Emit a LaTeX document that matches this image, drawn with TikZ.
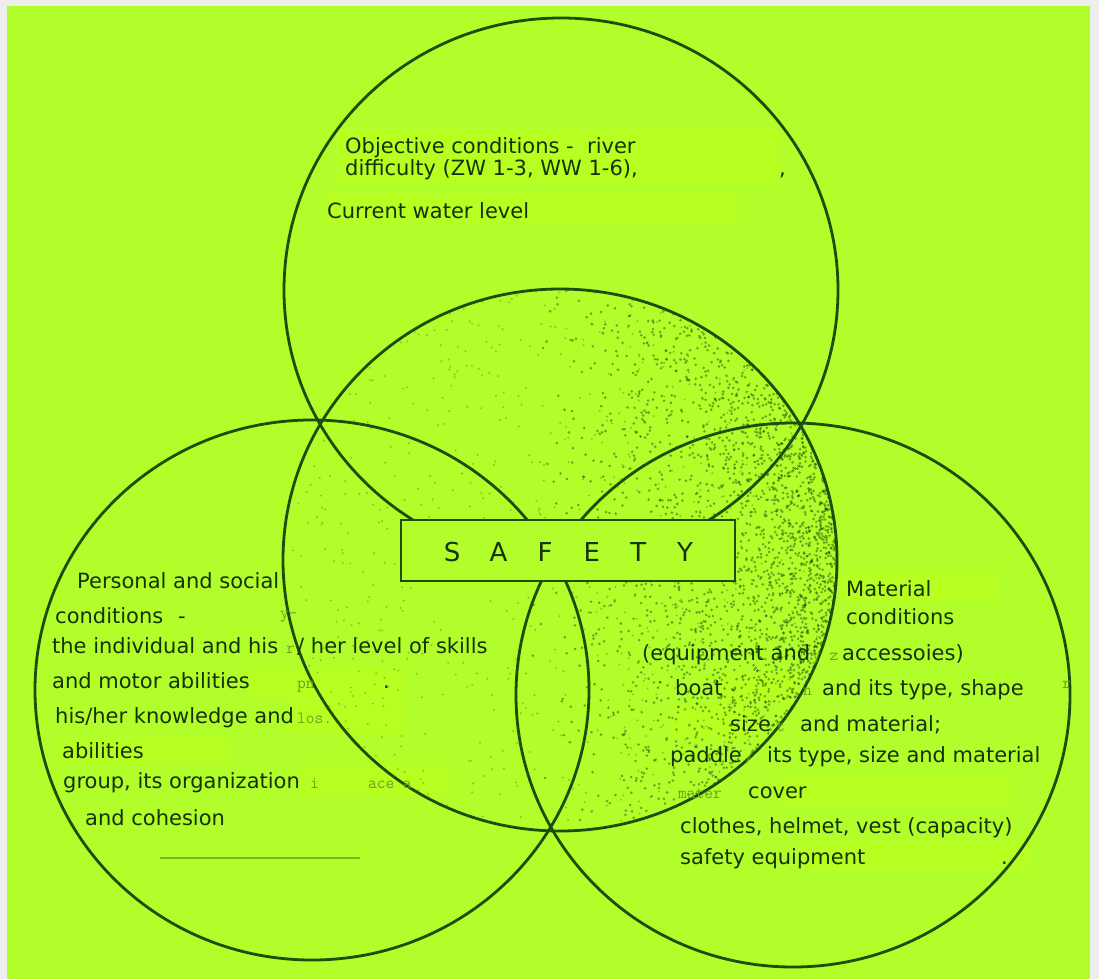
\documentclass[tikz,border=0pt]{standalone}
\usepackage{fontspec}
\setmainfont{DejaVu Sans}
\definecolor{lime}{RGB}{178,254,42}
\definecolor{limehi}{RGB}{183,255,32}
\definecolor{ink}{RGB}{22,50,8}
\definecolor{rim}{RGB}{30,76,10}
\definecolor{paper}{RGB}{238,238,238}
\tikzset{venn/.style={x=1pt,y=-1pt,font=\fontsize{21}{24}\selectfont}}
\tikzset{ring/.style={rim,line width=2.8pt},
         blot/.style={limehi},
         txt/.style={ink,anchor=base west,inner sep=0pt},
         ghost/.style={ink!45!lime,anchor=base west,inner sep=0pt,font=\ttfamily\fontsize{17}{18}\selectfont}}

\begin{document}
\begin{tikzpicture}[venn]
    \useasboundingbox (0,0) rectangle (1099,979);
    \fill[paper] (0,0) rectangle (1099,979);
    \fill[lime]  (7,6) rectangle (1090,979);
    % lighter patches left by the scan
    \fill[blot] (338,130) rectangle (780,184);
    \fill[blot] (325,193) rectangle (737,222);
    \fill[blot] (250,668) rectangle (405,700);
    \fill[blot] (290,702) rectangle (405,733);
    \fill[blot] (60,737) rectangle (230,763);
    \fill[blot] (300,766) rectangle (450,796);
    \fill[blot] (840,572) rectangle (998,602);
    \fill[blot] (720,674) rectangle (800,702);
    \fill[blot] (672,706) rectangle (760,740);
    \fill[blot] (780,776) rectangle (1012,806);
    \fill[blot] (800,841) rectangle (1030,870);
    % speckle inside the centre ring
    \begin{scope}
      \clip (560,560) ellipse [x radius=277, y radius=271];
      \pgfmathsetseed{7}
      \foreach \k in {1,...,4200} {
        \pgfmathsetmacro\px{840-310*rnd*rnd}
        \pgfmathsetmacro\py{545+285*rand}
        \fill[rim,opacity=.5] (\px,\py) circle [radius=1.4];
      }
      \foreach \k in {1,...,900} {
        \pgfmathsetmacro\px{560+277*rand}
        \pgfmathsetmacro\py{560+271*rand}
        \fill[rim,opacity=.3] (\px,\py) circle [radius=1.1];
      }
    \end{scope}
    % the four rings
    \draw[ring] (561,290) ellipse [x radius=277, y radius=272];  % objective
    \draw[ring] (560,560) ellipse [x radius=277, y radius=271];  % centre
    \draw[ring] (312,690) ellipse [x radius=277, y radius=270];  % personal
    \draw[ring] (793,695) ellipse [x radius=277, y radius=272];  % material
    \draw[ink!35!lime,line width=1.2pt] (160,858) -- (360,858);
    % title box
    \node[draw=rim,line width=2.8pt,fill=lime,minimum width=334pt,minimum height=61pt] (box) at (568,550.5) {};
    \foreach \c [count=\i from 0] in {S,A,F,E,T,Y}
      \node[ink,font=\fontsize{26}{30}\selectfont] (s\i) at ({452+46.6*\i},552) {\c};
    % objective conditions (base = last line)
    \node[txt,align=left,font=\fontsize{21}{18}\selectfont] (obja) at (345,175)
      {Objective conditions -\ \ river\\difficulty (ZW 1-3, WW 1-6),};
    \node[txt] (objc) at (779,175) {,};
    \node[txt] (objd) at (327,218) {Current water level};
    % personal and social conditions
    \node[txt] (pera) at (77,588) {Personal and social};
    \node[txt] (perb) at (55,623) {conditions};
    \node[txt] (perc) at (178,623) {-};
    \node[txt] (perd) at (52,653) {the individual and his};
    \node[txt] (pere) at (297,653) {/ her level of skills};
    \node[txt] (perf) at (52,688) {and motor abilities};
    \node[txt] (perg) at (383,688) {.};
    \node[txt] (perh) at (55,723) {his/her knowledge and};
    \node[txt] (peri) at (62,758) {abilities};
    \node[txt] (perj) at (63,788) {group, its organization};
    \node[txt] (perk) at (85,825) {and cohesion};
    % material conditions
    \node[txt] (mata) at (846,596) {Material};
    \node[txt] (matb) at (846,624) {conditions};
    \node[txt] (matc) at (642,660) {(equipment and};
    \node[txt] (matd) at (842,660) {accessoies)};
    \node[txt] (mate) at (675,695) {boat};
    \node[txt] (matf) at (822,695) {and its type, shape};
    \node[txt] (matg) at (730,731) {size};
    \node[txt] (math) at (800,731) {and material;};
    \node[txt] (mati) at (670,762) {paddle};
    \node[txt] (matj) at (767,762) {its type, size and material};
    \node[txt] (matk) at (748,798) {cover};
    \node[txt] (matl) at (680,833) {clothes, helmet, vest (capacity)};
    \node[txt] (matm) at (680,864) {safety equipment};
    \node[txt] (matn) at (1001,864) {.};
    % faint overprint
    \node[ghost] (gha) at (280,618) {y-};
    \node[ghost] (ghb) at (286,653) {r};
    \node[ghost] (ghc) at (297,688) {pn};
    \node[ghost] (ghd) at (297,723) {los.};
    \node[ghost] (ghe) at (310,788) {i};
    \node[ghost] (ghf) at (368,788) {ace a};
    \node[ghost] (ghg) at (812,660) {y z};
    \node[ghost] (ghh) at (803,695) {n};
    \node[ghost] (ghi) at (776,731) {t};
    \node[ghost] (ghj) at (745,762) {/};
    \node[ghost] (ghk) at (678,798) {mater};
    \node[ghost] (ghl) at (1062,688) {r};
\end{tikzpicture}
\end{document}
